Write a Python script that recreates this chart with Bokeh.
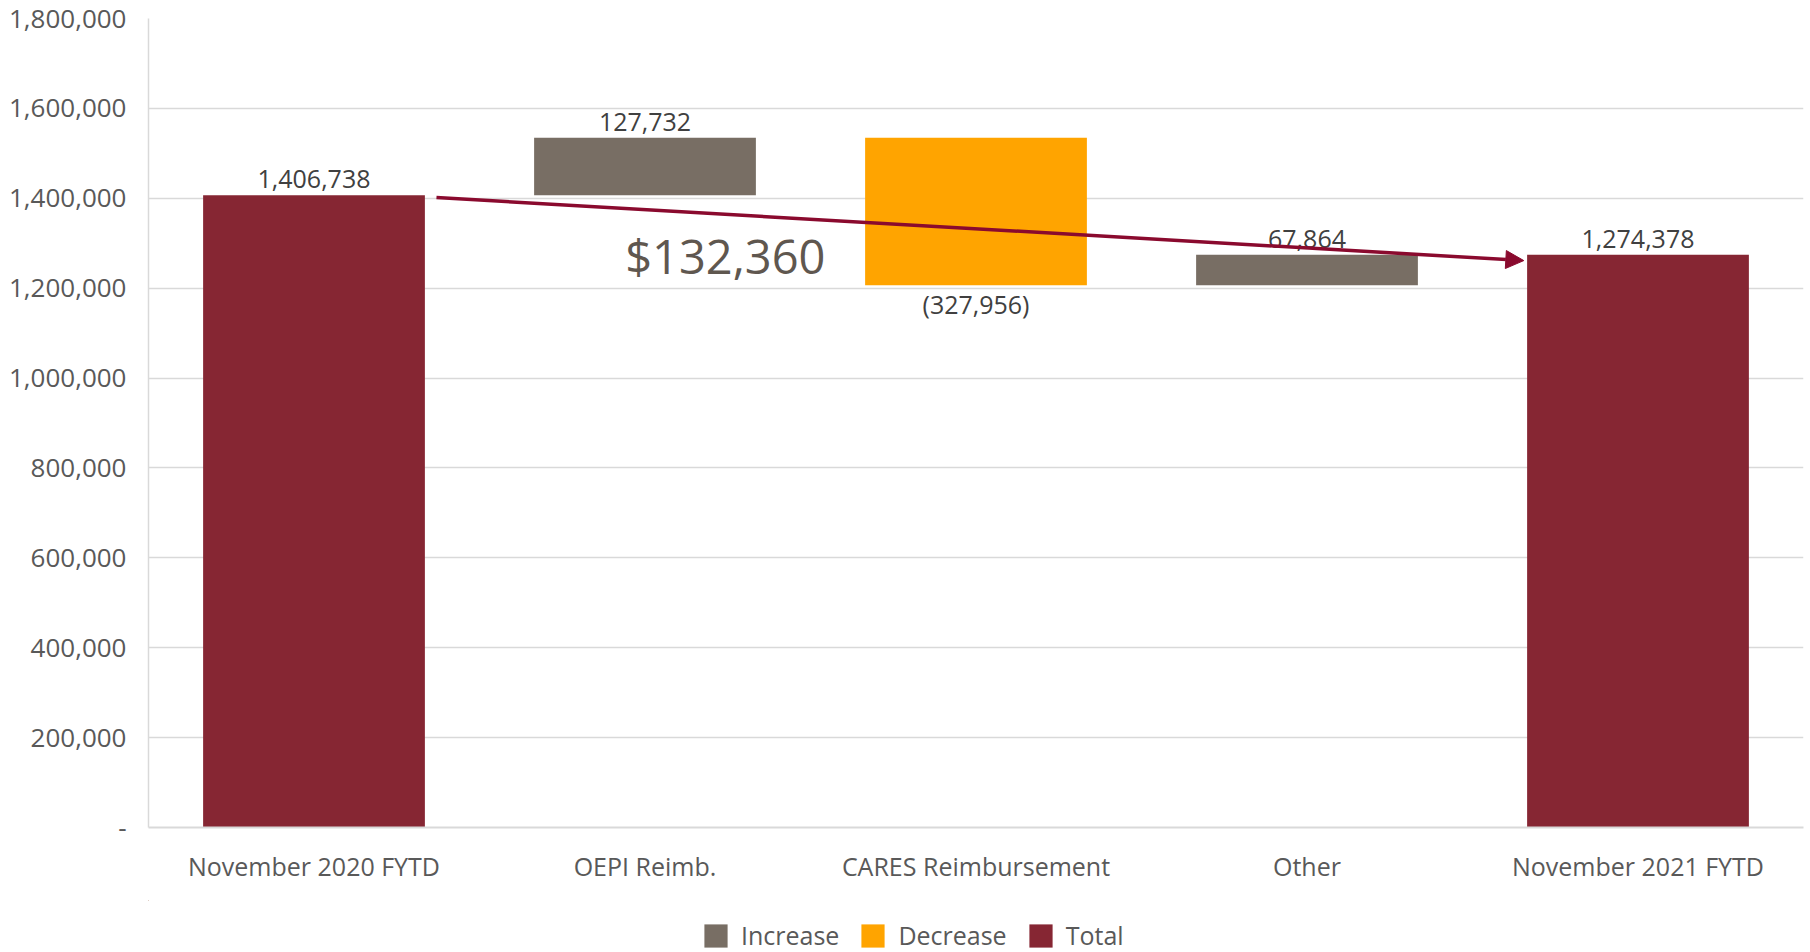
from bokeh.plotting import figure
from bokeh.layouts import column
from bokeh.models import ColumnDataSource, Range1d, FixedTicker, Arrow, NormalHead, Label, Legend, LegendItem
from bokeh.embed import file_html
from bokeh.resources import INLINE
from bokeh.core.properties import value

# ---- data ----
categories = ["November 2020 FYTD", "OEPI Reimb.", "CARES Reimbursement", "Other", "November 2021 FYTD"]
changes = [1406738, 127732, -327956, 67864, 1274378]
kinds = ["Total", "Increase", "Decrease", "Increase", "Total"]
y_ticks = [0, 200000, 400000, 600000, 800000, 1000000, 1200000, 1400000, 1600000, 1800000]
legend_order = ["Increase", "Decrease", "Total"]

colors = {"Increase": "#786E64", "Decrease": "#FFA400", "Total": "#862633"}
FONT = "Open Sans"
BAR_W = 0.67
W = 1806

# ---- waterfall geometry ----
running = 0
bottoms, tops = [], []
for c, k in zip(changes, kinds):
    if k == "Total":
        bottoms.append(0)
        tops.append(c)
        running = c
    else:
        new = running + c
        bottoms.append(min(running, new))
        tops.append(max(running, new))
        running = new
xs = list(range(len(categories)))

p = figure(width=W, height=900, output_backend="svg", toolbar_location=None,
           x_range=Range1d(-0.5, len(categories) - 0.5), y_range=Range1d(0, y_ticks[-1]),
           min_border_left=148, min_border_right=3, min_border_top=18, min_border_bottom=73,
           background_fill_color="white", border_fill_color="white")
p.outline_line_color = None

sources = {}
for kind in legend_order:
    idx = [i for i, k in enumerate(kinds) if k == kind]
    src = ColumnDataSource(dict(x=[xs[i] for i in idx], bottom=[bottoms[i] for i in idx],
                                top=[tops[i] for i in idx]))
    sources[kind] = src
    p.vbar(x="x", bottom="bottom", top="top", width=BAR_W, source=src,
           fill_color=colors[kind], line_color=None)

# data labels
up_idx = [i for i, c in enumerate(changes) if c >= 0]
dn_idx = [i for i, c in enumerate(changes) if c < 0]
up_src = ColumnDataSource(dict(x=[xs[i] for i in up_idx], y=[tops[i] for i in up_idx],
                               t=[f"{changes[i]:,}" for i in up_idx]))
dn_src = ColumnDataSource(dict(x=[xs[i] for i in dn_idx], y=[bottoms[i] for i in dn_idx],
                               t=[f"({-changes[i]:,})" for i in dn_idx]))
p.text(x="x", y="y", text="t", source=up_src, text_align="center", text_baseline="bottom",
       y_offset=-7, text_font=value(FONT), text_font_size="25px", text_color="#404040")
p.text(x="x", y="y", text="t", source=dn_src, text_align="center", text_baseline="top",
       y_offset=2, text_font=value(FONT), text_font_size="25px", text_color="#404040")

# arrow + annotation
arrow_color = "#8A0A2E"
p.add_layout(Arrow(end=NormalHead(size=18, fill_color=arrow_color, line_color=arrow_color),
                   x_start=xs[0] + BAR_W / 2 + 0.035, y_start=changes[0] - 5000,
                   x_end=xs[-1] - BAR_W / 2 - 0.01, y_end=changes[-1] - 13000,
                   line_color=arrow_color, line_width=3.5))
diff = changes[0] - changes[-1]
p.add_layout(Label(x=0.94, y=1272000, text=f"${diff:,}", text_font=FONT, text_font_size="47px",
                   text_baseline="middle", text_align="left", text_color="#5F574F"))

# axes
p.xaxis.ticker = FixedTicker(ticks=xs)
p.xaxis.major_label_overrides = {i: c for i, c in zip(xs, categories)}
p.yaxis.ticker = FixedTicker(ticks=y_ticks)
p.yaxis.major_label_overrides = {t: ("-" if t == 0 else f"{t:,}") for t in y_ticks}
for ax in (p.xaxis, p.yaxis):
    ax.major_tick_line_color = None
    ax.minor_tick_line_color = None
    ax.major_label_text_font = FONT
    ax.major_label_text_font_size = "25px"
    ax.major_label_text_color = "#595959"
    ax.axis_line_color = "#D9D9D9"
p.yaxis.major_label_text_font_size = "26px"
p.xaxis.axis_line_width = 2
p.yaxis.axis_line_width = 1.5
p.xaxis.major_label_standoff = 15
p.yaxis.major_label_standoff = 16
p.xgrid.grid_line_color = None
p.ygrid.grid_line_color = "#D9D9D9"
p.ygrid.grid_line_width = 1.5

# ---- legend strip below the chart ----
lf = figure(width=W, height=52, output_backend="svg", toolbar_location=None,
            x_range=Range1d(100, 101), y_range=Range1d(-2, -1), x_axis_type=None, y_axis_type=None,
            min_border_left=0, min_border_right=0, min_border_top=0, min_border_bottom=0,
            background_fill_color="white", border_fill_color="white")
lf.outline_line_color = None
lf.grid.visible = False
items = []
for kind in legend_order:
    # same bars, far outside this strip's visible range: only their legend swatch shows
    r = lf.vbar(x="x", bottom="bottom", top="top", width=BAR_W, source=sources[kind],
                fill_color=colors[kind], line_color=None)
    items.append(LegendItem(label=kind, renderers=[r]))
lg = Legend(items=items, orientation="horizontal", location=(553, 0),
            border_line_color=None, background_fill_alpha=0, padding=0, margin=0,
            spacing=19, glyph_width=29, glyph_height=29, label_standoff=11,
            label_text_font=FONT, label_text_font_size="25px", label_text_color="#595959")
lf.add_layout(lg, "center")

layout = column(p, lf, spacing=0)
open("out.html", "w").write(file_html(layout, INLINE))
